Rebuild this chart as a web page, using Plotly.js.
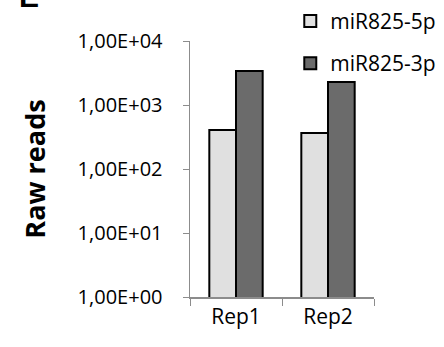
<!DOCTYPE html>
<html>
<head>
<meta charset="utf-8">
<script src="https://cdn.plot.ly/plotly-3.0.1.min.js"></script>
<style>html,body{margin:0;padding:0;background:#fff;}</style>
</head>
<body>
<div id="chart" style="width:444px;height:347px;"></div>
<script>
const categories = ["Rep1", "Rep2"];
const seriesNames = ["miR825-5p", "miR825-3p"];
const values5p = [407, 364];
const values3p = [3400, 2290];
const yTickVals = [1, 10, 100, 1000, 10000];
const yTickText = ["1,00E+00", "1,00E+01", "1,00E+02", "1,00E+03", "1,00E+04"];

const font = "Open Sans, Noto Sans, sans-serif";

const traces = [
  {type: "bar", x: categories, y: values5p, name: seriesNames[0], legendgroup: "a",
   marker: {color: "#e0e0e0", line: {color: "#000", width: 2}}},
  {type: "bar", x: categories, y: values3p, name: seriesNames[1], legendgroup: "b",
   marker: {color: "#6b6b6b", line: {color: "#000", width: 2}}}
];

const layout = {
  width: 444, height: 347,
  margin: {l: 190, r: 70, t: 41, b: 50, autoexpand: false},
  paper_bgcolor: "#fff", plot_bgcolor: "#fff",
  font: {family: font, size: 20, color: "#000"},
  barmode: "group", bargap: 0.42, bargroupgap: 0,
  showlegend: true,
  legend: {x: 0.545, y: 1.157, xanchor: "left", yanchor: "top",
           traceorder: "grouped", tracegroupgap: 12, font: {family: font, size: 21},
           itemwidth: 30, bgcolor: "rgba(0,0,0,0)"},
  xaxis: {type: "category", tickson: "boundaries", ticks: "outside", ticklen: 7, tickcolor: "#8c8c8c",
          showline: true, linecolor: "#8c8c8c", linewidth: 1.5, showgrid: false, zeroline: false,
          tickangle: 0, tickfont: {family: font, size: 21}, fixedrange: true},
  yaxis: {type: "log", range: [0, 4], tickvals: yTickVals, ticktext: yTickText, ticks: "outside",
          ticklen: 6, tickcolor: "#8c8c8c", showline: true, linecolor: "#8c8c8c", linewidth: 1.5,
          showgrid: false, zeroline: false, tickfont: {family: font, size: 20},
          ticklabelstandoff: 16,
          title: {text: "<b>Raw reads</b>", font: {family: font, size: 27}, standoff: 24}},
  annotations: [
    {text: "<b>E</b>", xref: "paper", yref: "paper", x: -0.94, y: 1.10, xanchor: "left", yanchor: "bottom",
     showarrow: false, font: {family: "Liberation Sans, Arial, sans-serif", size: 30, color: "#000"}}
  ]
};

Plotly.newPlot("chart", traces, layout, {displayModeBar: false, staticPlot: true});
</script>
</body>
</html>
